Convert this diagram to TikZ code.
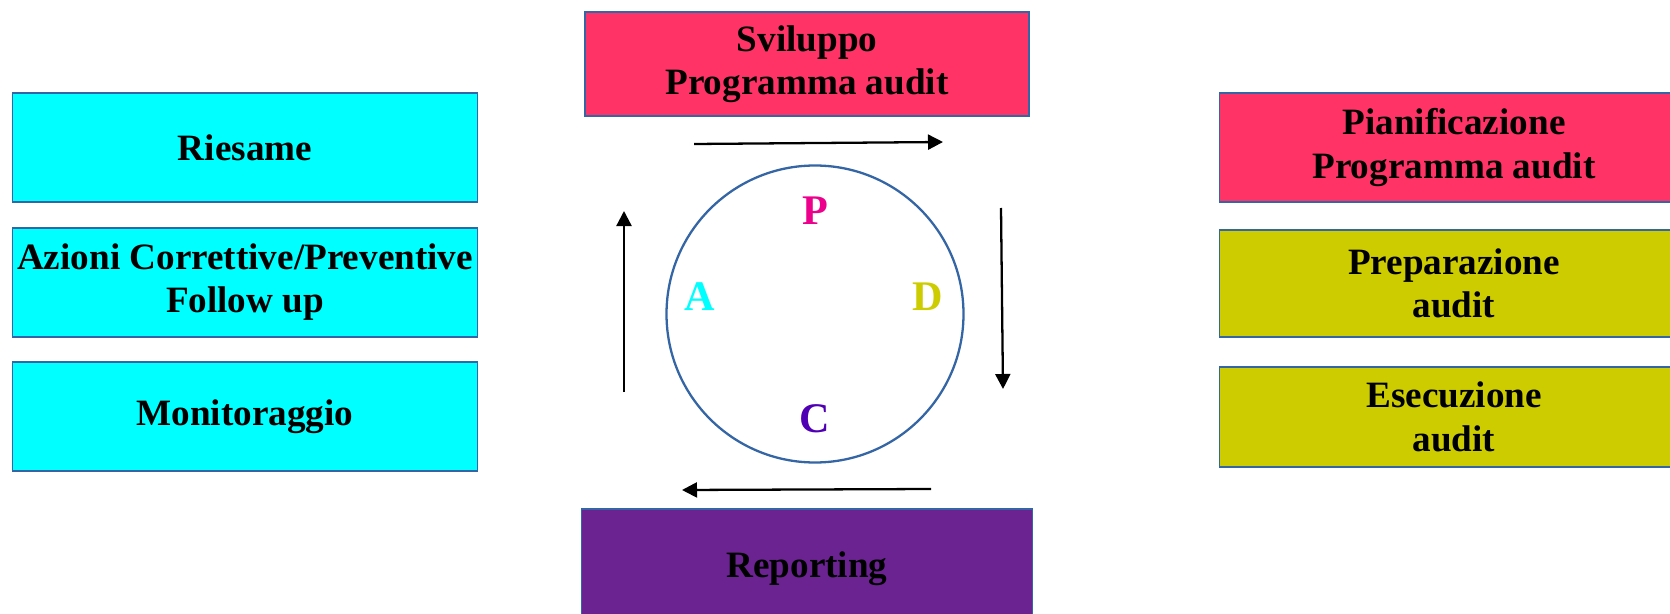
\documentclass[tikz,border=0pt]{standalone}
\usepackage{fontspec}
\setmainfont{Liberation Serif}
\usepackage{xcolor}
\usetikzlibrary{arrows.meta, positioning}

\definecolor{boxborder}{HTML}{3465A4}
\definecolor{pdcapink}{HTML}{FF3366}
\definecolor{pdcaolive}{HTML}{CCCC00}
\definecolor{pdcacyan}{HTML}{00FFFF}
\definecolor{pdcapurple}{HTML}{6A2390}
\definecolor{checkviolet}{HTML}{5000B4}

\begin{document}
\begin{tikzpicture}[
    node distance = 0.475cm and 0.8cm,
    block/.style = {rectangle, draw=boxborder, line width=1.1pt, align=center, inner sep=1pt, minimum width=9.3cm, minimum height=2.18cm, font=\fontsize{21.15}{24.6}\selectfont\bfseries},
    letter/.style = {font=\fontsize{24}{28}\selectfont\bfseries},
    arrow/.style = {line width=1.3pt, -{Triangle[length=0.3cm, width=0.3cm]}}
]
    \useasboundingbox (0,0) rectangle (33.4,12.26);

    % Nodes
    \node (cycle) [circle, draw=boxborder, line width=1.3pt, minimum size=5.94cm] at (16.30,5.98) {};
    \node (sviluppo) [block, fill=pdcapink, minimum width=8.88cm, minimum height=2.08cm] at (16.14,10.98) {Sviluppo\\Programma audit};
    \node (reporting) [block, fill=pdcapurple, minimum width=9.02cm, minimum height=2.4cm] at (16.14,0.88) {Reporting};

    \node (riesame) [block, fill=pdcacyan] at (4.9,9.31) {Riesame};
    \node (azioni) [block, fill=pdcacyan, below=of riesame] {Azioni Correttive/Preventive\\Follow up};
    \node (monitor) [block, fill=pdcacyan, below=of azioni] {Monitoraggio};

    \node (pianif) [block, fill=pdcapink, minimum width=9.38cm] at (29.08,9.31) {Pianificazione\\Programma audit};
    \node (prepar) [block, fill=pdcaolive, minimum width=9.38cm, minimum height=2.14cm, below=0.52cm of pianif] {Preparazione\\audit};
    \node (esecuz) [block, fill=pdcaolive, minimum width=9.38cm, minimum height=2.0cm, below=0.56cm of prepar] {Esecuzione\\audit};

    \node (plan) [letter, text=magenta] at (16.30,8.04) {P};
    \node (act) [letter, text=pdcacyan] at (14.0,6.32) {A};
    \node (doit) [letter, text=pdcaolive] at (18.56,6.32) {D};
    \node (check) [letter, text=checkviolet] at (16.30,3.88) {C};

    % Arrows
    \coordinate (topL) at (13.88,9.38);
    \coordinate (topR) at (18.86,9.42);
    \coordinate (rightT) at (20.02,8.10);
    \coordinate (rightB) at (20.06,4.48);
    \coordinate (botR) at (18.62,2.48);
    \coordinate (botL) at (13.64,2.46);
    \coordinate (leftB) at (12.48,4.42);
    \coordinate (leftT) at (12.48,8.04);
    \draw [arrow] (topL) -- (topR);
    \draw [arrow] (rightT) -- (rightB);
    \draw [arrow] (botR) -- (botL);
    \draw [arrow] (leftB) -- (leftT);

\end{tikzpicture}
\end{document}
